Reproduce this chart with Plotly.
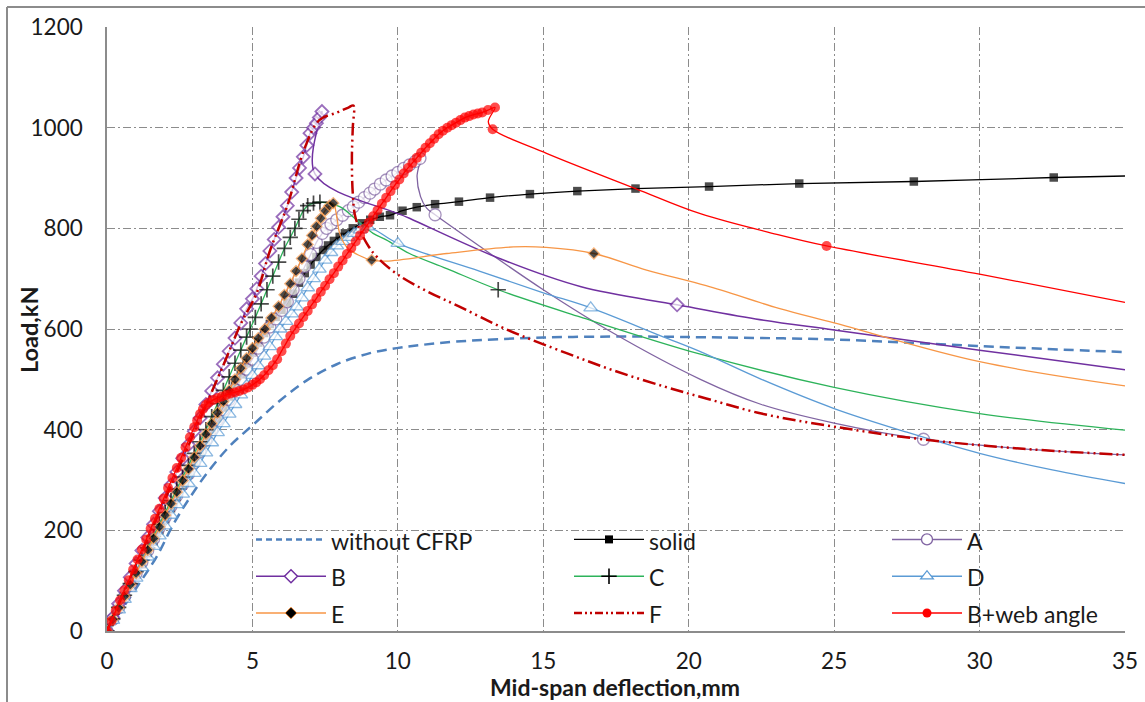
import plotly.graph_objects as go

# ---------------- data ----------------
# without CFRP (dashed, no markers)
wo_x = [0, 1.0, 1.71, 2.28, 2.85, 3.43, 4.23, 5.03, 5.95, 6.87, 7.9, 9.04, 9.96, 10.76,
        12, 15, 18, 20, 25, 30, 35]
wo_y = [0, 85, 148, 212, 265, 313, 368, 410, 458, 498, 530, 552, 562, 568,
        575, 583, 585, 584, 579, 566, 554]

# solid
solid_rise_x = [0, 0.2, 0.4, 0.6, 0.8, 1.0, 1.2, 1.4, 1.6, 1.8, 2.0, 2.2, 2.4, 2.6, 2.8, 3.0,
                3.2, 3.4, 3.6, 3.8, 4.0, 4.2, 4.4, 4.6, 4.8, 5.0, 5.2, 5.4, 5.6, 5.8, 6.0, 6.2,
                6.4, 6.6, 6.8, 7.0, 7.2, 7.43, 7.6, 7.8, 8.0, 8.18, 8.45, 8.76, 9.05, 9.38]
solid_rise_y = [0, 22, 45, 67, 89, 111, 133, 155, 178, 200, 222, 244, 266, 289, 311, 333,
                355, 377, 400, 422, 444, 466, 488, 510, 532, 553, 573, 592, 610, 624, 638, 652,
                670, 692, 711, 728, 743, 757, 766, 775, 783, 790, 800, 810, 817, 823]
solid_tail_x = [9.73, 10.16, 10.65, 11.28, 12.1, 13.17, 14.54, 16.17, 18.17, 20.7, 23.8,
                27.74, 32.55, 35]
solid_tail_y = [826, 835, 842, 848, 853, 861, 868, 874, 879, 883, 889, 893, 901, 904]
solid_tail_marks = [0, 1, 2, 3, 4, 5, 6, 7, 8, 9, 10, 11, 12]

# A
a_rise_x = [0, 0.2, 0.4, 0.6, 0.8, 1.0, 1.2, 1.4, 1.6, 1.8, 2.0, 2.2, 2.4, 2.6, 2.8, 3.0,
            3.2, 3.4, 3.6, 3.8, 4.0, 4.2, 4.4, 4.6, 4.8, 5.0, 5.2, 5.4, 5.6, 5.8, 6.0, 6.2,
            6.4, 6.6, 6.8, 7.0, 7.2, 7.4, 7.55, 7.7, 7.9, 8.1, 8.3, 8.47, 8.65, 8.85, 9.04,
            9.2, 9.4, 9.6, 9.8, 10.0, 10.2, 10.4, 10.6, 10.76]
a_rise_y = [0, 23, 46, 68, 91, 114, 137, 160, 183, 205, 226, 248, 269, 291, 312, 334,
            356, 379, 400, 420, 440, 460, 480, 500, 520, 540, 562, 584, 604, 620, 637, 654,
            678, 700, 724, 748, 772, 790, 800, 808, 817, 826, 835, 843, 852, 861, 870,
            878, 888, 896, 904, 911, 919, 926, 933, 939]
a_tail_x = [10.66, 10.78, 10.99, 11.28, 12.8, 15.0, 17.4, 20.4, 22.5, 25, 28.07, 31.5, 35]
a_tail_y = [903, 863, 840, 827, 765, 678, 592, 500, 450, 413, 381, 362, 350]
a_tail_marks = [3, 10]

# B
b_rise_x = [0, 0.2, 0.4, 0.6, 0.8, 1.0, 1.2, 1.4, 1.6, 1.8, 2.0, 2.2, 2.4, 2.6, 2.8, 3.0,
            3.2, 3.4, 3.6, 3.8, 4.0, 4.2, 4.4, 4.6, 4.8, 5.0, 5.15, 5.3, 5.45, 5.6, 5.75,
            5.9, 6.05, 6.2, 6.35, 6.5, 6.62, 6.75, 6.87, 6.98, 7.1, 7.2, 7.3, 7.39]
b_rise_y = [0, 27, 54, 80, 107, 134, 160, 186, 212, 238, 264, 290, 316, 343, 370, 397,
            423, 450, 477, 503, 530, 556, 582, 612, 640, 660, 680, 705, 730, 755, 778,
            802, 823, 845, 872, 900, 920, 942, 965, 989, 1000, 1009, 1020, 1032]
b_tail_x = [7.15, 10.4, 13.5, 16.3, 19.6, 22.3, 25, 30, 35]
b_tail_y = [908, 820, 740, 684, 648, 620, 598, 558, 519]
b_tail_marks = [0, 4]

# C
c_rise_x = [0, 0.2, 0.4, 0.6, 0.8, 1.0, 1.2, 1.4, 1.6, 1.8, 2.0, 2.2, 2.4, 2.6, 2.8, 3.0,
            3.2, 3.4, 3.6, 3.8, 4.0, 4.2, 4.4, 4.6, 4.8, 4.92, 5.1, 5.3, 5.5, 5.7, 5.9, 6.1,
            6.3, 6.46, 6.6, 6.75, 6.9, 7.1, 7.32]
c_rise_y = [0, 24, 47, 71, 94, 118, 141, 165, 188, 212, 235, 259, 282, 306, 329, 353,
            376, 400, 426, 452, 478, 505, 532, 558, 584, 600, 623, 650, 678, 705, 733, 760,
            782, 800, 818, 835, 845, 850, 852]
c_tail_x = [8.0, 8.58, 9.15, 9.6, 10.4, 11.68, 13.45, 16.26, 20.4, 25, 30, 35]
c_tail_y = [843, 817, 790, 777, 750, 720, 678, 624, 550, 484, 432, 399]
c_tail_marks = [6]

# D
d_rise_x = [0, 0.2, 0.4, 0.6, 0.8, 1.0, 1.2, 1.4, 1.6, 1.8, 2.0, 2.2, 2.4, 2.6, 2.8, 3.0,
            3.2, 3.4, 3.6, 3.8, 4.0, 4.2, 4.4, 4.6, 4.8, 5.0, 5.2, 5.4, 5.6, 5.8, 5.95, 6.15,
            6.35, 6.52, 6.7, 6.9, 7.1, 7.3, 7.5, 7.7, 7.9, 8.1, 8.3, 8.5, 8.7, 8.97]
d_rise_y = [0, 21, 42, 63, 84, 105, 126, 147, 168, 189, 209, 230, 251, 272, 293, 313,
            333, 354, 374, 394, 412, 431, 450, 469, 488, 508, 527, 546, 565, 585, 600, 615,
            630, 644, 662, 682, 700, 719, 737, 752, 765, 774, 782, 790, 797, 803]
d_tail_x = [10.0, 12.8, 15.0, 16.63, 19.1, 20.4, 22.5, 25, 27.5, 30, 32.5, 35]
d_tail_y = [770, 715, 672, 642, 585, 555, 500, 442, 395, 353, 320, 293]
d_tail_marks = [0, 3]

# E
e_rise_x = [0, 0.2, 0.4, 0.6, 0.8, 1.0, 1.2, 1.4, 1.6, 1.8, 2.0, 2.2, 2.4, 2.6, 2.8, 3.0,
            3.2, 3.4, 3.6, 3.8, 4.0, 4.2, 4.4, 4.6, 4.8, 5.0, 5.2, 5.43, 5.65, 5.9, 6.1,
            6.3, 6.5, 6.7, 6.9, 7.05, 7.2, 7.35, 7.5, 7.65, 7.78]
e_rise_y = [0, 23, 46, 69, 92, 115, 138, 161, 184, 207, 230, 253, 276, 299, 322, 345,
            368, 391, 412, 434, 456, 478, 500, 522, 542, 562, 582, 600, 622, 645, 668,
            690, 715, 740, 768, 786, 804, 820, 835, 845, 850]
e_tail_x = [7.9, 8.0, 8.24, 8.64, 9.1, 9.6, 11.68, 13.97, 15.1, 16.74, 18.55, 20.6, 23.1,
            25, 30, 35]
e_tail_y = [823, 790, 763, 747, 737, 735, 750, 763, 762, 750, 717, 686, 641, 612, 535, 487]
e_tail_marks = [4, 9]

# F (dash-dot-dot, no markers)
f_x = [0, 1, 2, 3, 4, 4.6, 5.15, 5.6, 6.2, 6.8, 7.3, 7.9, 8.3, 8.47, 8.45, 8.42, 8.45,
       8.55, 8.93, 9.3, 10.0, 11.0, 12.1, 13.7, 15.8, 17.5, 19.2, 20.6, 22.5, 25, 28,
       31.5, 35]
f_y = [0, 132, 262, 395, 528, 610, 672, 755, 845, 960, 1015, 1030, 1040, 1044, 1000, 940,
       870, 820, 770, 742, 708, 675, 645, 600, 552, 516, 485, 462, 432, 406, 381, 362, 350]

# B + web angle
bw_rise_x = [0, 0.15, 0.3, 0.45, 0.6, 0.75, 0.9, 1.05, 1.2, 1.35, 1.5, 1.65, 1.8, 1.95,
             2.1, 2.25, 2.4, 2.55, 2.7, 2.85, 3.0, 3.1, 3.2,
             3.3, 3.4, 3.5, 3.65, 3.8, 3.95, 4.1, 4.25, 4.4, 4.55, 4.7, 4.85, 5.0, 5.13, 5.26,
             5.4, 5.55, 5.7, 5.85, 6.0, 6.15, 6.3, 6.45, 6.6, 6.75, 6.9, 7.05, 7.2, 7.35,
             7.5, 7.65, 7.8, 7.95, 8.1, 8.25, 8.4, 8.55, 8.7, 8.85, 9.0, 9.15, 9.3, 9.45,
             9.6, 9.75, 9.9, 10.05, 10.2, 10.35, 10.5,
             10.65, 10.8, 10.95, 11.1, 11.25, 11.4, 11.55, 11.7, 11.85, 12.0, 12.15, 12.3,
             12.45, 12.6, 12.75, 12.9, 13.1, 13.34]
bw_rise_y = [0, 20, 40, 61, 81, 101, 122, 142, 162, 182, 203, 223, 243, 263,
             284, 304, 324, 344, 365, 385, 405, 418, 431,
             441, 449, 454, 459, 463, 466, 469, 472, 474, 477, 480, 484, 489, 494, 500,
             508, 518, 528, 540, 556, 571, 586, 599, 611, 624, 636, 649, 661, 674,
             686, 699, 711, 724, 736, 749, 761, 774, 786, 799, 811, 824, 836, 849,
             861, 874, 886, 897, 909, 920, 930,
             940, 950, 960, 969, 978, 987, 994, 1000, 1005, 1010, 1015, 1020,
             1023, 1026, 1028, 1030, 1035, 1040]
bw_tail_x = [13.11, 13.26, 15.11, 18.17, 20.4, 23.1, 24.74, 30, 35]
bw_tail_y = [1012, 997, 949, 879, 829, 787, 765, 709, 653]
bw_tail_marks = [1, 6]

x_ticks = [0, 5, 10, 15, 20, 25, 30, 35]
y_ticks = [0, 200, 400, 600, 800, 1000, 1200]

# ---------------- figure ----------------
FONT = "Lato"
TXT = "#1A1A1A"
fig = go.Figure()


def series(name, rx, ry, tx, ty, tmarks, color, lw, symbol, msize, mfill, mline, mlw):
    assert len(rx) == len(ry) and len(tx) == len(ty), name
    xs = list(rx) + list(tx)
    ys = list(ry) + list(ty)
    marked = [True] * len(rx) + [i in tmarks for i in range(len(tx))]
    sizes = [msize if m else 0 for m in marked]
    lws = [mlw if m else 0 for m in marked]
    fig.add_trace(go.Scatter(
        x=xs, y=ys, mode="lines+markers", showlegend=False, name=name,
        line=dict(color=color, width=lw, shape="spline", smoothing=1),
        marker=dict(symbol=symbol, size=sizes, color=mfill,
                    line=dict(color=mline, width=lws)),
        hoverinfo="skip"))


def legend_entry(name, color, lw, dash, symbol=None, msize=0, mfill=None, mline=None,
                 mlw=0):
    mode = "lines+markers" if symbol else "lines"
    kw = {}
    if symbol:
        kw["marker"] = dict(symbol=symbol, size=msize, color=mfill,
                            line=dict(color=mline, width=mlw))
    label = '<span style="font-size:23px">' + name + '</span>'
    fig.add_trace(go.Scatter(x=[None], y=[None], mode=mode, name=label,
                             line=dict(color=color, width=lw, dash=dash), **kw))


# data traces (drawing order)
fig.add_trace(go.Scatter(x=wo_x, y=wo_y, mode="lines", showlegend=False,
                         line=dict(color="#4F81BD", width=2.5, dash="10px,6px",
                                   shape="spline"), hoverinfo="skip"))
series("solid", solid_rise_x, solid_rise_y, solid_tail_x, solid_tail_y, solid_tail_marks,
       "#000000", 1.3, "square", 8.5, "#000000", "#000000", 0)
series("A", a_rise_x, a_rise_y, a_tail_x, a_tail_y, a_tail_marks,
       "#8064A2", 1.3, "circle", 12, "#FFFFFF", "#8064A2", 1.3)
series("B", b_rise_x, b_rise_y, b_tail_x, b_tail_y, b_tail_marks,
       "#7030A0", 1.5, "diamond", 10, "#FFFFFF", "#7030A0", 1.8)
series("C", c_rise_x, c_rise_y, c_tail_x, c_tail_y, c_tail_marks,
       "#2DB35A", 1.3, "cross-thin", 11, "#000000", "#000000", 1.7)
series("D", d_rise_x, d_rise_y, d_tail_x, d_tail_y, d_tail_marks,
       "#5B9BD5", 1.3, "triangle-up", 12, "#FFFFFF", "#5B9BD5", 1.3)
series("E", e_rise_x, e_rise_y, e_tail_x, e_tail_y, e_tail_marks,
       "#F79646", 1.3, "diamond", 8.5, "#000000", "#F79646", 1.2)
fig.add_trace(go.Scatter(x=f_x, y=f_y, mode="lines", showlegend=False,
                         line=dict(color="#C00000", width=2.5,
                                   dash="13px,4px,2px,4px,2px,4px", shape="spline"),
                         hoverinfo="skip"))
series("B+web angle", bw_rise_x, bw_rise_y, bw_tail_x, bw_tail_y, bw_tail_marks,
       "#FF0000", 1.3, "circle", 10, "#FF0000", "#FF0000", 0)

# legend entries (row-major, three per row)
legend_entry("without CFRP", "#4F81BD", 2.5, "6px,4px")
legend_entry("solid", "#000000", 1.3, "solid", "square", 8, "#000000", "#000000", 0)
legend_entry("A", "#8064A2", 1.5, "solid", "circle", 11, "#FFFFFF", "#8064A2", 1.3)
legend_entry("B", "#7030A0", 1.5, "solid", "diamond", 10, "#FFFFFF", "#7030A0", 1.5)
legend_entry("C", "#2DB35A", 1.5, "solid", "cross-thin", 11, "#000000", "#000000", 1.6)
legend_entry("D", "#5B9BD5", 1.5, "solid", "triangle-up", 11, "#FFFFFF", "#5B9BD5", 1.3)
legend_entry("E", "#F79646", 1.5, "solid", "diamond", 9, "#000000", "#F79646", 1)
legend_entry("F", "#C00000", 2.5, "8px,3px,2px,3px,2px,3px")
legend_entry("B+web angle", "#FF0000", 1.5, "solid", "circle", 9, "#FF0000", "#FF0000", 0)

W, H = 1145, 702
L, R, T, B = 107, 20, 27, 71
PW, PH = W - L - R, H - T - B


def px(xp):
    return (xp - L) / PW


def py(yp):
    return (H - B - yp) / PH


grid = dict(showgrid=True, gridcolor="#8C8C8C", gridwidth=1, griddash="8px,3px,2px,3px",
            zeroline=False, showline=True, linecolor="#8C8C8C", linewidth=1.5,
            ticks="", tickfont=dict(family=FONT, size=22.5, color=TXT))

fig.update_layout(
    width=W, height=H,
    margin=dict(l=L, r=R, t=T, b=B, autoexpand=False),
    paper_bgcolor="white", plot_bgcolor="white",
    font=dict(family=FONT, color=TXT),
    xaxis=dict(range=[0, 35], tickvals=x_ticks, ticktext=[str(v) for v in x_ticks],
               ticklabelstandoff=9, **grid),
    yaxis=dict(range=[0, 1200], tickvals=y_ticks, ticktext=[str(v) for v in y_ticks],
               ticklabelstandoff=18, **grid),
    legend=dict(orientation="h", x=px(251), y=py(516), xanchor="left", yanchor="top",
                entrywidth=233, entrywidthmode="pixels", itemwidth=70,
                bgcolor="rgba(0,0,0,0)", font=dict(family=FONT, size=26, color=TXT),
                traceorder="normal"),
    annotations=[
        dict(text="<b>Mid-span deflection,mm</b>", xref="paper", yref="paper",
             x=px(615), y=py(702), xanchor="center", yanchor="bottom", showarrow=False,
             borderpad=0, font=dict(family=FONT, size=23, color=TXT)),
        dict(text="<b>Load,kN</b>", xref="paper", yref="paper", textangle=-90,
             x=px(29), y=py(330), xanchor="center", yanchor="middle", showarrow=False,
             font=dict(family=FONT, size=23.5, color=TXT)),
    ],
    shapes=[
        dict(type="line", xref="paper", yref="paper", x0=px(7), x1=px(W + 5),
             y0=py(7), y1=py(7), line=dict(color="#8C8C8C", width=2)),
        dict(type="line", xref="paper", yref="paper", x0=px(7), x1=px(7),
             y0=py(7), y1=py(H + 5), line=dict(color="#8C8C8C", width=2)),
    ],
)

fig.write_html("out.html")
